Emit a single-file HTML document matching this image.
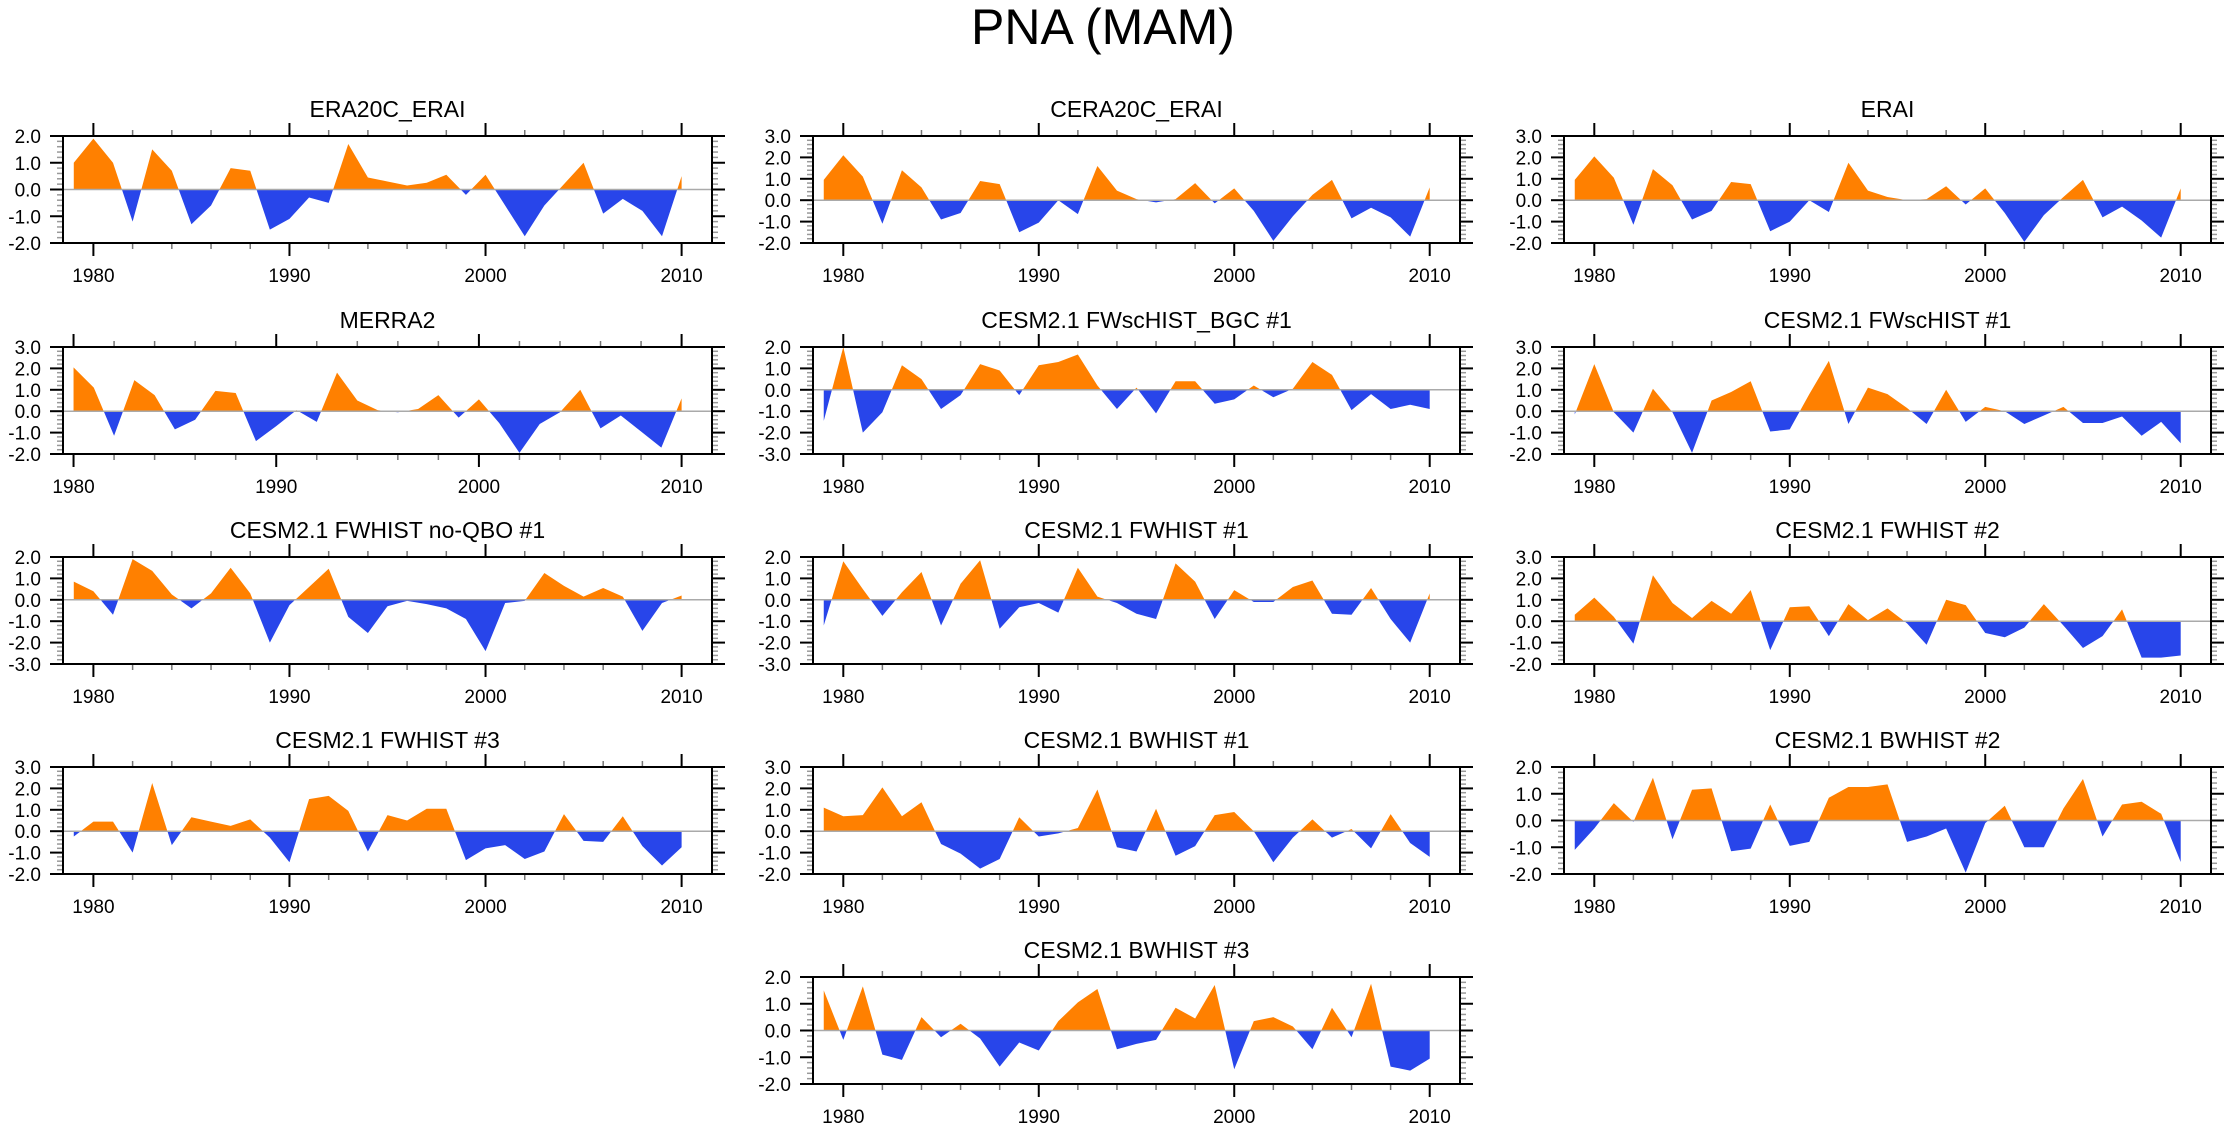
<!DOCTYPE html>
<html><head><meta charset="utf-8"><style>
html,body{margin:0;padding:0;background:#fff}
svg{display:block}
text{font-family:"Liberation Sans",sans-serif;fill:#000}
</style></head><body>
<svg id="fig" width="2230" height="1132" viewBox="0 0 2230 1132" xmlns="http://www.w3.org/2000/svg">
<text x="1103" y="44" font-size="50" text-anchor="middle">PNA (MAM)</text>
</svg>
<script>
const panelTitles = ["ERA20C_ERAI","CERA20C_ERAI","ERAI","MERRA2","CESM2.1 FWscHIST_BGC #1","CESM2.1 FWscHIST #1","CESM2.1 FWHIST no-QBO #1","CESM2.1 FWHIST #1","CESM2.1 FWHIST #2","CESM2.1 FWHIST #3","CESM2.1 BWHIST #1","CESM2.1 BWHIST #2","CESM2.1 BWHIST #3"];
const startYears = [1979,1979,1979,1980,1979,1979,1979,1979,1979,1979,1979,1979,1979];
const yMins = [-2,-2,-2,-2,-3,-2,-3,-3,-2,-2,-2,-2,-2];
const yMaxs = [2,3,3,3,2,3,2,2,3,3,3,2,2];
const xTickLabels = [1980,1990,2000,2010];
const sERA20C = [1.0,1.9,1.0,-1.2,1.5,0.7,-1.3,-0.6,0.8,0.7,-1.5,-1.1,-0.3,-0.5,1.7,0.45,0.3,0.15,0.25,0.55,-0.2,0.55,-0.6,-1.75,-0.6,0.2,1.0,-0.9,-0.35,-0.8,-1.75,0.5];
const sCERA20C = [0.95,2.1,1.1,-1.1,1.4,0.6,-0.9,-0.6,0.9,0.75,-1.5,-1.05,0.0,-0.65,1.6,0.45,0.05,-0.1,0.05,0.8,-0.15,0.55,-0.5,-1.9,-0.75,0.25,0.95,-0.85,-0.35,-0.8,-1.7,0.6];
const sERAI = [0.95,2.05,1.05,-1.15,1.45,0.7,-0.9,-0.5,0.85,0.75,-1.45,-1.0,0.0,-0.55,1.75,0.45,0.15,0.0,0.05,0.65,-0.2,0.55,-0.6,-1.95,-0.7,0.15,0.95,-0.8,-0.3,-0.95,-1.75,0.55];
const sMERRA2 = [2.05,1.1,-1.15,1.45,0.75,-0.85,-0.4,0.95,0.85,-1.4,-0.7,0.05,-0.5,1.8,0.5,0.05,-0.05,0.1,0.75,-0.3,0.55,-0.55,-1.95,-0.6,-0.05,1.0,-0.8,-0.2,-0.95,-1.7,0.6];
const sFWscBGC = [-1.45,2.0,-2.0,-1.05,1.15,0.5,-0.9,-0.25,1.2,0.9,-0.25,1.15,1.3,1.65,0.2,-0.9,0.1,-1.1,0.4,0.4,-0.65,-0.45,0.2,-0.35,0.05,1.3,0.7,-0.95,-0.2,-0.9,-0.7,-0.9];
const sFWsc1 = [-0.15,2.2,-0.05,-1.0,1.05,-0.05,-1.95,0.5,0.9,1.4,-0.95,-0.85,0.8,2.35,-0.6,1.1,0.8,0.15,-0.6,1.0,-0.5,0.2,0.0,-0.6,-0.2,0.2,-0.55,-0.55,-0.25,-1.15,-0.5,-1.5];
const sNoQBO = [0.85,0.4,-0.7,1.9,1.35,0.25,-0.4,0.3,1.5,0.3,-2.0,-0.25,0.6,1.45,-0.8,-1.55,-0.3,-0.05,-0.2,-0.4,-0.9,-2.4,-0.15,-0.05,1.25,0.65,0.15,0.55,0.15,-1.45,-0.15,0.2];
const sFW1 = [-1.2,1.8,0.5,-0.75,0.35,1.3,-1.2,0.75,1.85,-1.35,-0.35,-0.15,-0.6,1.5,0.15,-0.15,-0.65,-0.9,1.7,0.85,-0.9,0.45,-0.1,-0.1,0.6,0.9,-0.65,-0.7,0.55,-0.9,-2.0,0.3];
const sFW2 = [0.3,1.1,0.2,-1.05,2.15,0.85,0.15,0.95,0.35,1.45,-1.35,0.65,0.7,-0.7,0.8,0.05,0.6,-0.1,-1.1,1.0,0.75,-0.55,-0.75,-0.3,0.8,-0.2,-1.25,-0.7,0.55,-1.7,-1.7,-1.6];
const sFW3 = [-0.25,0.45,0.45,-1.0,2.25,-0.65,0.65,0.45,0.25,0.55,-0.3,-1.45,1.5,1.65,0.95,-0.95,0.75,0.5,1.05,1.05,-1.35,-0.8,-0.65,-1.3,-0.95,0.8,-0.45,-0.5,0.7,-0.7,-1.6,-0.75];
const sBW1 = [1.1,0.7,0.75,2.05,0.7,1.35,-0.6,-1.05,-1.75,-1.3,0.65,-0.25,-0.1,0.15,1.95,-0.75,-0.95,1.05,-1.15,-0.7,0.75,0.9,0.0,-1.45,-0.3,0.55,-0.3,0.1,-0.8,0.8,-0.55,-1.2];
const sBW2 = [-1.1,-0.3,0.65,-0.05,1.6,-0.7,1.15,1.2,-1.15,-1.05,0.6,-0.95,-0.8,0.85,1.25,1.25,1.35,-0.8,-0.6,-0.3,-1.95,-0.1,0.55,-1.0,-1.0,0.45,1.55,-0.6,0.6,0.7,0.25,-1.55];
const sBW3 = [1.5,-0.35,1.65,-0.9,-1.1,0.5,-0.25,0.25,-0.3,-1.35,-0.45,-0.75,0.35,1.05,1.55,-0.7,-0.5,-0.35,0.85,0.45,1.7,-1.45,0.35,0.5,0.15,-0.7,0.85,-0.25,1.75,-1.35,-1.5,-1.05];
const seriesList = [sERA20C,sCERA20C,sERAI,sMERRA2,sFWscBGC,sFWsc1,sNoQBO,sFW1,sFW2,sFW3,sBW1,sBW2,sBW3];

const NS = "http://www.w3.org/2000/svg";
const svg = document.getElementById("fig");
const colL = [63, 813, 1564], colR = [712, 1460, 2211];
const rowT = [136, 347, 557, 767, 977], PH = 107;
function mk(tag, attrs, parent){const e=document.createElementNS(NS,tag);for(const k in attrs)e.setAttribute(k,attrs[k]);(parent||svg).appendChild(e);return e;}

seriesList.forEach((vals, i) => {
  const r = Math.floor(i/3), c = i===12 ? 1 : i%3;
  const L = colL[c], R = colR[c], T = rowT[r], B = T + PH;
  const xr = startYears[i] === 1980 ? [1979.48, 2011.5] : [1978.45, 2011.55];
  const ymin = yMins[i], ymax = yMaxs[i];
  const xs = yr => L + (yr - xr[0]) / (xr[1] - xr[0]) * (R - L);
  const ys = v => B - (v - ymin) / (ymax - ymin) * (B - T);
  const g = mk("g", {});
  
  
  const t = mk("text", {x:(L+R)/2, y:T-19, "font-size":23, "text-anchor":"middle"}, g);
  
  
  t.textContent = panelTitles[i];
  const y0 = ys(0);
  const cidA = "ca"+i, cidB = "cb"+i;
  const defs = mk("defs", {}, g);
  const cpA = mk("clipPath", {id:cidA}, defs); mk("rect", {x:L, y:T-20, width:R-L, height:y0-T+20}, cpA);
  const cpB = mk("clipPath", {id:cidB}, defs); mk("rect", {x:L, y:y0, width:R-L, height:B-y0+20}, cpB);
  let pts = [];
  vals.forEach((v, k) => pts.push(xs(startYears[i]+k).toFixed(2)+","+ys(v).toFixed(2)));
  const x0 = xs(startYears[i]), x1 = xs(startYears[i]+vals.length-1);
  const poly = x0.toFixed(2)+","+y0.toFixed(2)+" "+pts.join(" ")+" "+x1.toFixed(2)+","+y0.toFixed(2);
  const pa = mk("polygon", {points:poly, fill:"#ff8000", "clip-path":"url(#"+cidA+")"}, g);
  
  
  const pb = mk("polygon", {points:poly, fill:"#2845ea", "clip-path":"url(#"+cidB+")"}, g);
  
  
  mk("line", {x1:L, x2:R, y1:y0, y2:y0, stroke:"#aaa", "stroke-width":1.5}, g);
  for (let v = ymin; v <= ymax + 1e-9; v += 0.2) {
    const yy = ys(v), major = Math.abs(v - Math.round(v)) < 1e-6;
    const len = major ? 13 : 6, col = major ? "#000" : "#999";
    mk("line", {x1:L-len, x2:L, y1:yy, y2:yy, stroke:col, "stroke-width":major?2:1.5}, g);
    mk("line", {x1:R, x2:R+len, y1:yy, y2:yy, stroke:col, "stroke-width":major?2:1.5}, g);
    if (major) {
      const lb = mk("text", {x:L-22, y:yy+7, "font-size":19, "text-anchor":"end"}, g);
      
      
      lb.textContent = Math.round(v).toFixed(1);
    }
  }
  for (let yr = 1980; yr <= 2010; yr += 2) {
    const xx = xs(yr), major = yr % 10 === 0, len = major ? 13 : 6;
    mk("line", {x1:xx, x2:xx, y1:T-len, y2:T, stroke:major?"#000":"#777", "stroke-width":major?2:1.5}, g);
    mk("line", {x1:xx, x2:xx, y1:B, y2:B+len, stroke:major?"#000":"#777", "stroke-width":major?2:1.5}, g);
  }
  xTickLabels.forEach(yr => {
    const lb = mk("text", {x:xs(yr), y:B+39, "font-size":19, "text-anchor":"middle"}, g);
    
    
    lb.textContent = yr;
  });
  mk("rect", {x:L, y:T, width:R-L, height:PH, fill:"none", stroke:"#000", "stroke-width":2}, g);
});
</script>
</body></html>
